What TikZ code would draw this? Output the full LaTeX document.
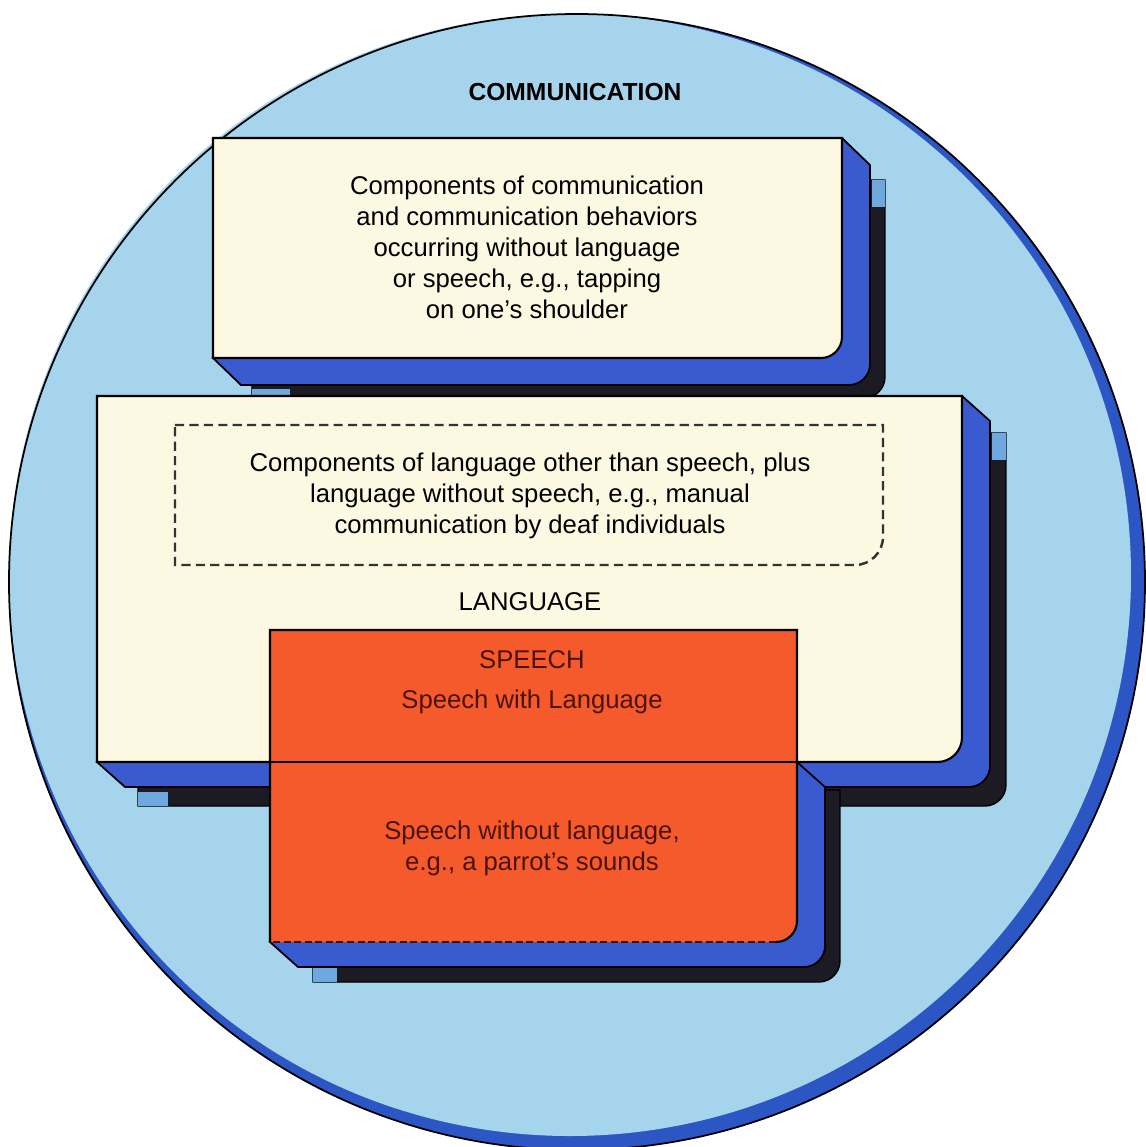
\documentclass[tikz,border=0pt]{standalone}
\usepackage{fontspec}
\setmainfont{Liberation Sans}
\definecolor{sky}{HTML}{A6D4EC}
\definecolor{rim}{HTML}{2C56C4}
\definecolor{cream}{HTML}{FDF8E1}
\definecolor{slab}{HTML}{3A5BD0}
\definecolor{paleslab}{HTML}{6FA8DE}
\definecolor{shade}{HTML}{1C1A22}
\definecolor{speechred}{HTML}{F55A2D}
\definecolor{speechink}{HTML}{4A1208}

\begin{document}
\begin{tikzpicture}[x=0.01cm, y=-0.01cm,
    frontface/.style={fill=cream, draw=black, line width=0.6pt},
    sideslab/.style={fill=slab, draw=black, line width=0.5pt},
    backslab/.style={fill=shade, draw=black, line width=0.4pt},
    dashbox/.style={draw=black!80, line width=0.7pt, dash pattern=on 2.6pt off 1.5pt},
    boxtext/.style={font=\fontsize{7.3}{8.8}\selectfont, align=center, inner sep=0pt}]

    \path[use as bounding box, fill=white] (0,0) rectangle (1146,1147);

    % the communication circle
    \fill[rim] (577,582) circle[radius=568];
    \fill[sky] (570,575) circle[radius=561];
    \draw[line width=0.5pt] (577,582) circle[radius=568];
    \node[font=\bfseries\fontsize{7}{8}\selectfont, inner sep=0pt] (comm) at (575,92) {COMMUNICATION};

    % top slab
    \draw[backslab] (252,180) -- (885,180) [rounded corners=6pt] -- (885,398) [sharp corners] -- (252,398) -- cycle;
    \fill[paleslab] (872,180) rectangle (885,207);
    \fill[paleslab] (252,389) rectangle (290,398);
    \draw[sideslab] (842,138) -- (870,165) [rounded corners=6pt] -- (870,385) [sharp corners] -- (241,385) -- (213,358) -- cycle;
    \draw[frontface] (213,138) -- (842,138) [rounded corners=6pt] -- (842,358) [sharp corners] -- (213,358) -- cycle;
    \node[boxtext] (nonverbal) at (527,247) {Components of communication\\and communication behaviors\\occurring without language\\or speech, e.g., tapping\\on one's shoulder};

    % language slab
    \draw[backslab] (138,433) -- (1006,433) [rounded corners=6pt] -- (1006,806) [sharp corners] -- (138,806) -- cycle;
    \fill[paleslab] (992,433) rectangle (1006,460);
    \fill[paleslab] (138,792) rectangle (168,806);
    \draw[sideslab] (962,396) -- (990,421) [rounded corners=6pt] -- (990,787) [sharp corners] -- (125,787) -- (97,762) -- cycle;

    % speech slab, back parts
    \draw[backslab] (313,790) -- (840,790) [rounded corners=6pt] -- (840,982) [sharp corners] -- (313,982) -- cycle;
    \fill[paleslab] (313,968) rectangle (337,982);
    \draw[sideslab] (797,762) -- (825,787) [rounded corners=6pt] -- (825,967) [sharp corners] -- (298,967) -- (270,942) -- cycle;

    % language face
    \draw[frontface] (97,396) -- (962,396) [rounded corners=7pt] -- (962,762) [sharp corners] -- (97,762) -- cycle;
    \draw[dashbox] (175,425) -- (883,425) [rounded corners=8pt] -- (883,565) [sharp corners] -- (175,565) -- cycle;
    \node[boxtext] (manual) at (530,496) {Components of language other than speech, plus\\language without speech, e.g., manual\\communication by deaf individuals};
    \node[boxtext] (lang) at (530,602) {LANGUAGE};

    % speech face
    \fill[speechred] (270,630) -- (797,630) [rounded corners=6pt] -- (797,942) [sharp corners] -- (270,942) -- cycle;
    \draw[line width=0.6pt] (270,942) -- (270,630) -- (797,630) [rounded corners=6pt] -- (797,942) [sharp corners] -- (776,942);
    \draw[speechink, line width=0.6pt, dash pattern=on 2pt off 1pt] (776,942) -- (270,942);
    \draw[line width=0.6pt] (270,762) -- (797,762);
    \node[boxtext, text=speechink] (speech) at (532,660) {SPEECH};
    \node[boxtext, text=speechink] (withlang) at (532,702) {Speech with Language};
    \node[boxtext, text=speechink] (parrot) at (532,848) {Speech without language,\\e.g., a parrot's sounds};
\end{tikzpicture}
\end{document}
